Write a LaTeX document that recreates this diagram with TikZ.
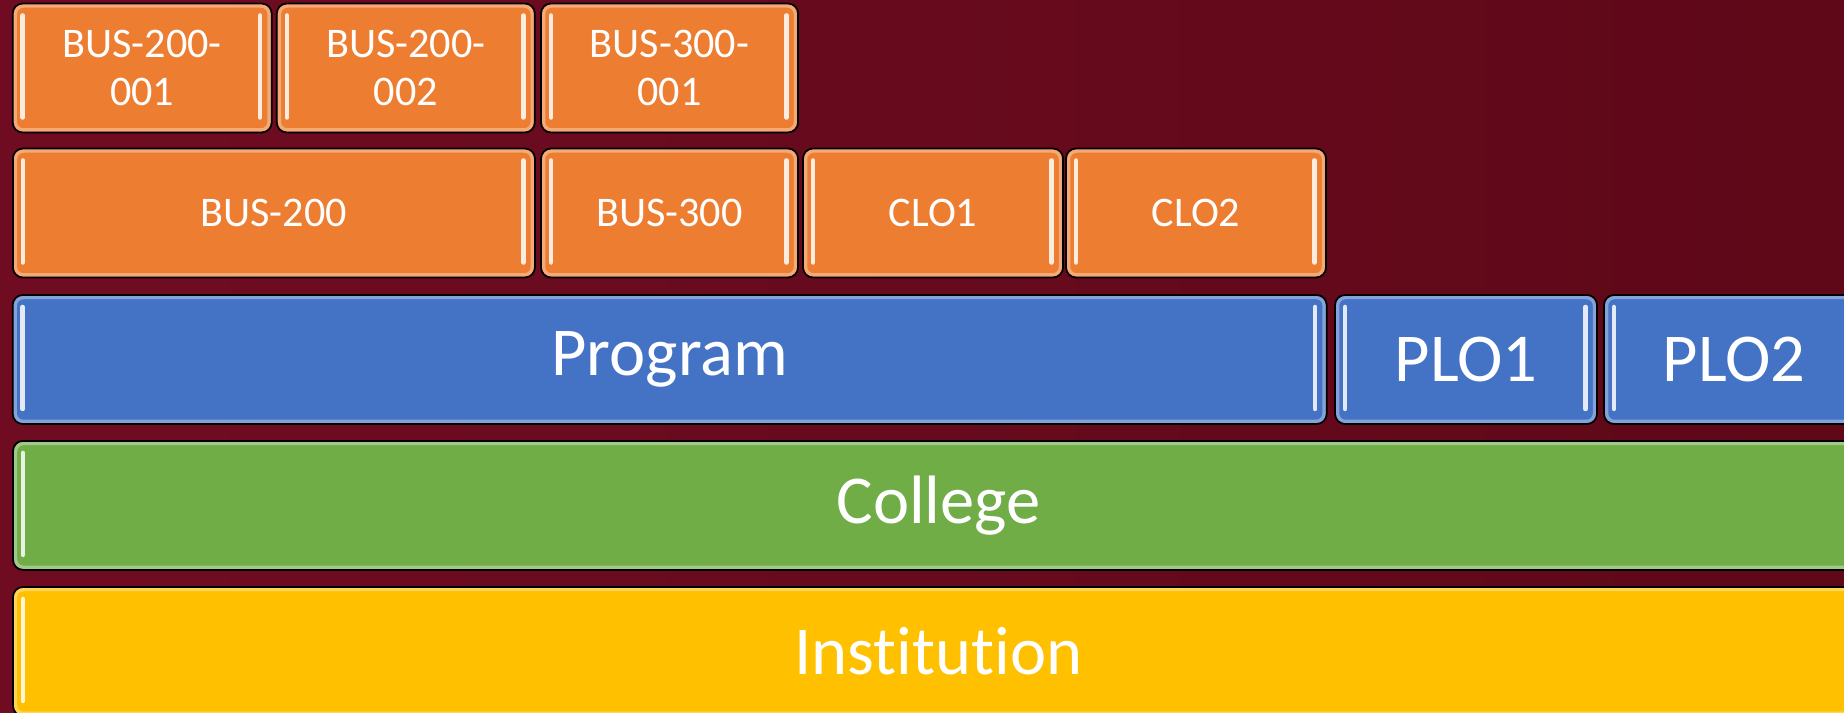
\documentclass[tikz,border=0pt]{standalone}
\usepackage{fontspec}
\setmainfont[Ligatures=NoCommon]{Carlito}
\definecolor{bgdark}{HTML}{5E0818}
\definecolor{bglight}{HTML}{700C22}
\definecolor{courseorange}{HTML}{ED7D31}
\definecolor{programblue}{HTML}{4472C4}
\definecolor{collegegreen}{HTML}{70AD47}
\definecolor{institutionyellow}{HTML}{FFC000}
\tikzset{
   tierbox/.style={
     draw=black, line width=0.5pt, rounded corners=0.1cm,
     fill=#1, text=white, inner sep=0pt, align=center,
     minimum height=1.29cm,
     path picture={
       \draw[white, opacity=0.35, line width=0.035cm, rounded corners=0.08cm]
         ([shift={(0.025,-0.025)}]path picture bounding box.north west) rectangle
         ([shift={(-0.025,0.025)}]path picture bounding box.south east);
       \draw[#1!15!white, line width=0.045cm, line cap=round]
         ([shift={(0.1,-0.12)}]path picture bounding box.north west) --
         ([shift={(0.1,0.15)}]path picture bounding box.south west);
       \draw[#1!15!white, line width=0.045cm, line cap=round]
         ([shift={(-0.115,-0.12)}]path picture bounding box.north east) --
         ([shift={(-0.115,0.15)}]path picture bounding box.south east);
     }
   },
   course/.style={tierbox=courseorange, font=\fontsize{12}{13.4}\selectfont},
   program/.style={tierbox=programblue, font=\fontsize{19.5}{23}\selectfont},
   college/.style={tierbox=collegegreen, font=\fontsize{19.5}{23}\selectfont},
   institution/.style={tierbox=institutionyellow, font=\fontsize{19.5}{23}\selectfont}
}
\begin{document}
\begin{tikzpicture}
            \clip (0,0) rectangle (18.44,7.13);
            \shade[left color=bglight, right color=bgdark] (0,0) rectangle (18.44,7.13);

            % sections
            \node[course, minimum width=2.59cm](sec1) at (1.422,6.45) {BUS-200-\\001};
            \node[course, minimum width=2.58cm](sec2) at (4.058,6.45) {BUS-200-\\002};
            \node[course, minimum width=2.57cm](sec3) at (6.695,6.45) {BUS-300-\\001};

            % courses and CLOs
            \node[course, minimum width=5.22cm](bus200) at (2.739,5.0) {BUS-200};
            \node[course, minimum width=2.57cm](bus300) at (6.695,5.0) {BUS-300};
            \node[course, minimum width=2.6cm](clo1) at (9.33,5.0) {CLO1};
            \node[course, minimum width=2.6cm](clo2) at (11.96,5.0) {CLO2};

            % program and PLOs
            \node[program, minimum width=13.14cm](program) at (6.697,3.535) {Program};
            \node[program, minimum width=2.62cm](plo1) at (14.66,3.535) {PLO1};
            \node[program, minimum width=2.6cm](plo2) at (17.34,3.535) {PLO2};

            \node[college, minimum width=18.51cm](college) at (9.385,2.076) {College};
            \node[institution, minimum width=18.51cm](institution) at (9.385,0.615) {Institution};
         \end{tikzpicture}
\end{document}
